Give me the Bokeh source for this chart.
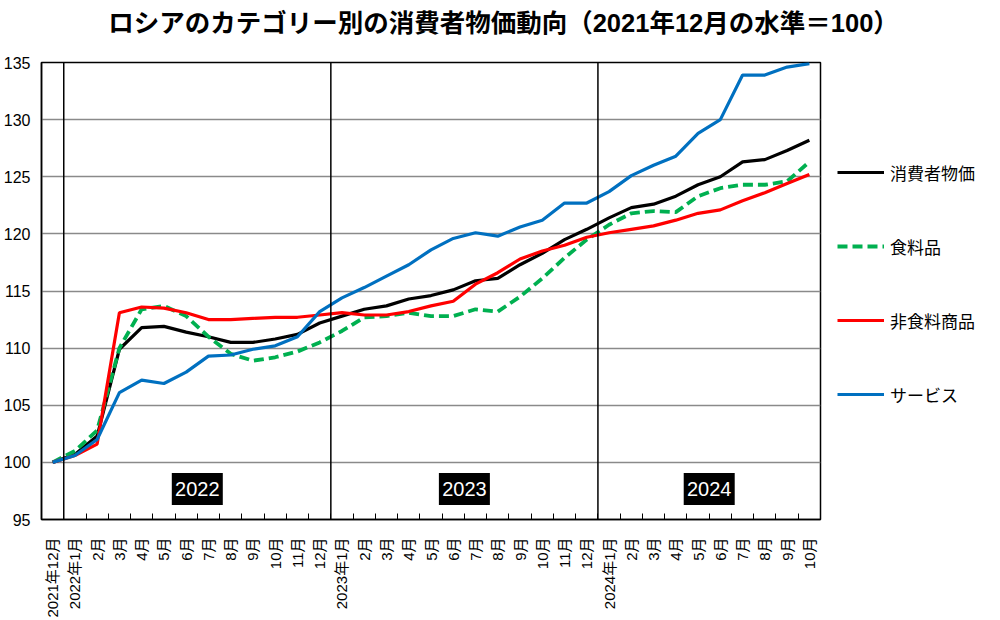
import math
from bokeh.plotting import figure
from bokeh.layouts import column, row
from bokeh.models import (Range1d, FixedTicker, Span, Legend, LegendItem, Label,
                          ColumnDataSource, Spacer)
from bokeh.core.properties import value
from bokeh.embed import file_html
from bokeh.resources import INLINE

FONT = "Liberation Sans, Noto Sans CJK JP"

TITLE = "ロシアのカテゴリー別の消費者物価動向（2021年12月の水準＝100）"

months = ["2021年12月", "2022年1月", "2月", "3月", "4月", "5月", "6月", "7月", "8月",
          "9月", "10月", "11月", "12月",
          "2023年1月", "2月", "3月", "4月", "5月", "6月", "7月", "8月", "9月", "10月",
          "11月", "12月",
          "2024年1月", "2月", "3月", "4月", "5月", "6月", "7月", "8月", "9月", "10月"]

years = ["2022", "2023", "2024"]

series_names = ["消費者物価", "食料品", "非食料商品", "サービス"]

cpi = [100.0, 100.7, 102.3, 109.9, 111.8, 111.9, 111.4, 111.0, 110.5, 110.5, 110.8, 111.2, 112.2,
       112.8, 113.4, 113.7, 114.3, 114.6, 115.1, 115.9, 116.1, 117.3, 118.3, 119.5, 120.4,
       121.4, 122.3, 122.6, 123.3, 124.3, 125.0, 126.3, 126.5, 127.3, 128.2]

food = [100.0, 101.0, 102.8, 110.0, 113.4, 113.7, 112.8, 111.0, 109.5, 108.9, 109.2, 109.7, 110.5,
        111.5, 112.7, 112.8, 113.1, 112.8, 112.8, 113.4, 113.2, 114.5, 116.1, 117.9, 119.5,
        120.8, 121.8, 122.0, 121.9, 123.3, 124.0, 124.3, 124.3, 124.6, 126.3]

nonfood = [100.0, 100.6, 101.6, 113.1, 113.6, 113.5, 113.1, 112.5, 112.5, 112.6, 112.7, 112.7, 112.9,
           113.1, 112.9, 112.9, 113.2, 113.7, 114.1, 115.6, 116.6, 117.8, 118.5, 119.0, 119.7,
           120.1, 120.4, 120.7, 121.2, 121.8, 122.1, 122.9, 123.6, 124.4, 125.2]

services = [100.0, 100.6, 102.0, 106.1, 107.2, 106.9, 107.9, 109.3, 109.4, 109.9, 110.2, 111.0, 113.2,
            114.4, 115.3, 116.3, 117.3, 118.6, 119.6, 120.1, 119.8, 120.6, 121.2, 122.7, 122.7,
            123.7, 125.1, 126.0, 126.8, 128.8, 130.0, 133.9, 133.9, 134.6, 134.9]

y_ticks = [95, 100, 105, 110, 115, 120, 125, 130, 135]

styles = [dict(line_color="black", line_width=3.2),
          dict(line_color="#00B050", line_width=3.8, line_dash="10 5"),
          dict(line_color="#FF0000", line_width=3.2),
          dict(line_color="#0070C0", line_width=3.2)]

n = len(months)
x = list(range(n))


def blank(fig):
    fig.background_fill_color = "white"
    fig.border_fill_color = "white"
    fig.outline_line_color = None
    fig.xgrid.visible = False
    fig.ygrid.visible = False


# ---------- title strip ----------
tfig = figure(width=1000, height=40, output_backend="svg", toolbar_location=None,
              x_range=Range1d(0, 1000), y_range=Range1d(0, 40),
              x_axis_type=None, y_axis_type=None,
              min_border_left=0, min_border_right=0, min_border_top=0, min_border_bottom=0)
blank(tfig)
tfig.add_layout(Label(x=503, y=18, text=TITLE, text_font=FONT, text_font_size="25.5px",
                      text_font_style="bold", text_align="center", text_baseline="middle",
                      text_color="black"))

# ---------- main chart ----------
p = figure(width=822, height=580, output_backend="svg", toolbar_location=None,
           x_range=Range1d(-0.5, n - 0.5), y_range=Range1d(y_ticks[0], y_ticks[-1]),
           min_border_left=41, min_border_right=2, min_border_top=22, min_border_bottom=100)
p.background_fill_color = "white"
p.border_fill_color = "white"
p.outline_line_color = "black"
p.outline_line_width = 1.5

p.yaxis.ticker = FixedTicker(ticks=y_ticks)
p.yaxis.major_tick_in = 0
p.yaxis.major_tick_out = 0
p.yaxis.minor_tick_line_color = None
p.yaxis.axis_line_color = "black"
p.yaxis.axis_line_width = 1.5
p.yaxis.major_label_text_font = FONT
p.yaxis.major_label_text_font_size = "16px"
p.yaxis.major_label_text_color = "black"
p.yaxis.major_label_standoff = 11

p.ygrid.ticker = FixedTicker(ticks=y_ticks)
p.ygrid.grid_line_color = "#8a8a8a"
p.ygrid.grid_line_width = 1.3
p.xgrid.visible = False

p.xaxis.ticker = FixedTicker(ticks=x, minor_ticks=[i + 0.5 for i in range(n - 1)])
p.xaxis.major_label_overrides = {i: lab for i, lab in enumerate(months)}
p.xaxis.major_tick_line_color = None
p.xaxis.minor_tick_in = 6
p.xaxis.minor_tick_out = 0
p.xaxis.minor_tick_line_color = "black"
p.xaxis.minor_tick_line_width = 1
p.xaxis.axis_line_color = "black"
p.xaxis.axis_line_width = 1.5
p.xaxis.major_label_orientation = math.pi / 2
p.xaxis.major_label_text_font = FONT
p.xaxis.major_label_text_font_size = "15px"
p.xaxis.major_label_text_color = "black"
p.xaxis.major_label_standoff = 12

for i, lab in enumerate(months):
    if i > 0 and "年" in lab:
        p.add_layout(Span(location=i - 0.5, dimension="height",
                          line_color="black", line_width=1.5))

starts = [i for i, lab in enumerate(months) if i > 0 and "年" in lab]
ends = starts[1:] + [n]
centers = [(s + e - 1) / 2 for s, e in zip(starts, ends)]
ysrc = ColumnDataSource(dict(x=centers, y=[97.67] * len(years), text=years))
p.rect(x="x", y="y", width=51, height=32, width_units="screen", height_units="screen",
       fill_color="black", line_color=None, source=ysrc)
p.text(x="x", y="y", text="text", text_align="center", text_baseline="middle",
       text_color="white", text_font=value(FONT), text_font_size="20px", source=ysrc)

for vals, st in zip([cpi, food, nonfood, services], styles):
    p.line(x, vals, **st)

# ---------- legend strip ----------
lfig = figure(width=178, height=485, output_backend="svg", toolbar_location=None,
              x_range=Range1d(0, 1), y_range=Range1d(0, 1),
              x_axis_type=None, y_axis_type=None,
              min_border_left=0, min_border_right=0, min_border_top=0, min_border_bottom=0)
blank(lfig)
# legend-only renderers: their points sit outside the visible range
lrs = [lfig.line(x=[-10, -9], y=[-10, -10], **st) for st in styles]
legend = Legend(items=[LegendItem(label=nm, renderers=[r]) for nm, r in zip(series_names, lrs)],
                location="left", glyph_width=47, glyph_height=25, label_height=25,
                label_standoff=6, spacing=49, padding=0, margin=15,
                border_line_color=None, background_fill_alpha=0,
                label_text_font=FONT, label_text_font_size="17px",
                label_text_color="black")
lfig.add_layout(legend)

layout = column(tfig,
                row(p, column(lfig, Spacer(width=178, height=95), spacing=0), spacing=0),
                spacing=0)

open("out.html", "w").write(file_html(layout, INLINE))
